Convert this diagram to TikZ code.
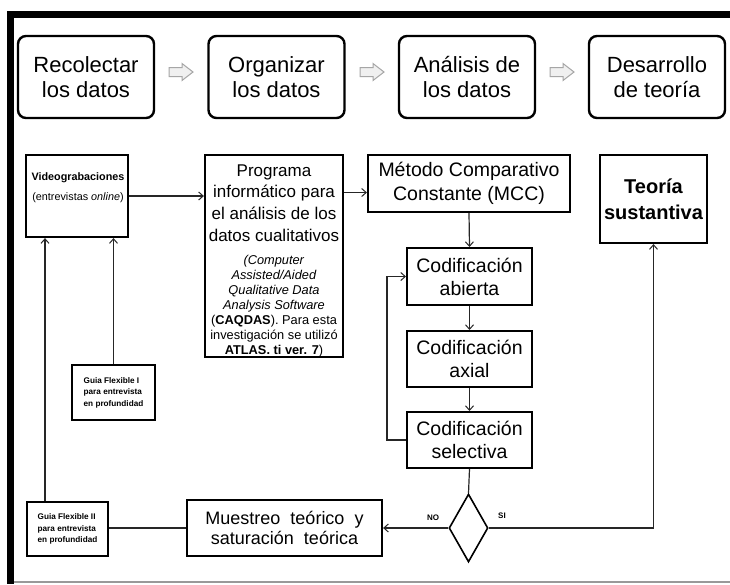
\documentclass[tikz,border=0pt]{standalone}
\usepackage{fontspec}
\setmainfont{Liberation Sans}
\usetikzlibrary{arrows.meta,shapes.geometric}
\begin{document}
\begin{tikzpicture}[x=1pt,y=-1pt,
  topbox/.style={draw=black, line width=2.4pt, rounded corners=8pt, minimum width=136pt, minimum height=82pt, align=center, inner sep=0pt, font=\fontsize{22}{25}\selectfont},
  box/.style={draw=black, line width=2.2pt, inner sep=0pt, align=center},
  cbox/.style={box, line width=2pt, minimum width=125pt, minimum height=56pt, font=\fontsize{19.5}{23}\selectfont},
  gbox/.style={box, line width=1.8pt, align=left, font=\bfseries\fontsize{8.2}{11.5}\selectfont},
  conn/.style={draw=black!85, line width=1.2pt},
  arr/.style={conn, -{Straight Barb[length=4.5pt,width=8pt,line width=1pt]}},
  grayarr/.style={draw=black!35, fill=black!6, line width=1pt, line join=miter},
  lbl/.style={font=\bfseries\fontsize{8}{9}\selectfont, inner sep=0pt}
]
\useasboundingbox (0,0) rectangle (730,584);
\fill[white] (0,0) rectangle (730,584);
% frame
\fill[black] (7,11) rectangle (730,18);
\fill[black] (7,11) rectangle (14,584);
\draw[black!40, line width=1.5pt] (14,582) -- (730,582);

% top row
\node[topbox] (t1) at (86,77) {Recolectar\\los datos};
\node[topbox] (t2) at (276.5,77) {Organizar\\los datos};
\node[topbox] (t3) at (467,77) {Análisis de\\los datos};
\node[topbox] (t4) at (657,77) {Desarrollo\\de teoría};
\foreach \cx in {181,372,562}{
  \draw[grayarr, shift={(\cx,72)}] (-12,-4.5) -- (1,-4.5) -- (1,-8.5) -- (12,0) -- (1,8.5) -- (1,4.5) -- (-12,4.5) -- cycle;
}

% middle
\node[box, minimum width=102pt, minimum height=82pt] (vid) at (77,196) {};
\node[align=center, inner sep=0pt, font=\fontsize{10.8}{20}\selectfont] (vidt) at (78,188) {\textbf{Videograbaciones}\\(entrevistas \textit{online})};

\node[box, minimum width=138pt, minimum height=202pt] (prog) at (274,256) {};
\node[align=center, inner sep=0pt, font=\fontsize{17}{21.6}\selectfont] (progA) at (274,203) {Programa\\informático para\\el análisis de los\\datos cualitativos};
\node[align=center, inner sep=0pt, font=\fontsize{12.8}{15}\selectfont] (progB) at (274,306) {\textit{(Computer}\\\textit{Assisted/Aided}\\\textit{Qualitative Data}\\\textit{Analysis Software}\\(\textbf{CAQDAS}). Para esta\\investigación se utilizó\\\textbf{ATLAS. ti ver. 7})};

\node[box, minimum width=202pt, minimum height=57pt, font=\fontsize{19.5}{24}\selectfont] (mcc) at (469,183.5) {Método Comparativo\\Constante (MCC)};
\node[box, minimum width=107pt, minimum height=88pt, font=\bfseries\fontsize{20}{26}\selectfont] (teo) at (653.5,199) {Teoría\\sustantiva};

\node[cbox, minimum height=57pt] (abi) at (469.5,276.5) {Codificación\\abierta};
\node[cbox] (axi) at (469.5,359) {Codificación\\axial};
\node[cbox] (sel) at (469.5,440) {Codificación\\selectiva};

\node[draw=black, line width=1.6pt, diamond, minimum width=39pt, minimum height=68pt, inner sep=0pt] (dia) at (468.5,528) {};

\node[box, minimum width=195pt, minimum height=56pt, font=\fontsize{18}{20}\selectfont] (mue) at (284.5,528) {Muestreo \ teórico \ y\\saturación \ teórica};

\node[gbox, minimum width=83pt, minimum height=55pt] (g1) at (113.5,392.5) {Guia Flexible I\\para entrevista\\en profundidad};
\node[gbox, minimum width=81pt, minimum height=54pt] (g2) at (67.5,529) {Guia Flexible II\\para entrevista\\en profundidad};

% connectors
\draw[arr] (vid.east) -- (vid.east -| prog.west);
\draw[arr] ([yshift=-9pt]mcc.west -| prog.east) -- ([yshift=-9pt]mcc.west);
\draw[arr] (mcc.south) -- (abi.north);
\draw[arr] (abi.south) -- (axi.north);
\draw[arr] (axi.south) -- (sel.north);
\draw[arr] (sel.west) -- ++(-19,0) |- (abi.west);
\draw[conn] (sel.south) -- (dia.north);
\draw[arr] (dia.west) -- (mue.east);
\draw[arr] (dia.east) -| (teo.south);
\draw[conn] (mue.west) -- (mue.west -| g2.east);
\draw[arr] ([xshift=-22.5pt]g2.north) -- ([xshift=-22.5pt]g2.north |- vid.south);
\draw[arr] (g1.north) -- (g1.north |- vid.south);

\node[lbl] (no) at (433,518) {NO};
\node[lbl] (si) at (502,516) {SI};
\end{tikzpicture}
\end{document}
